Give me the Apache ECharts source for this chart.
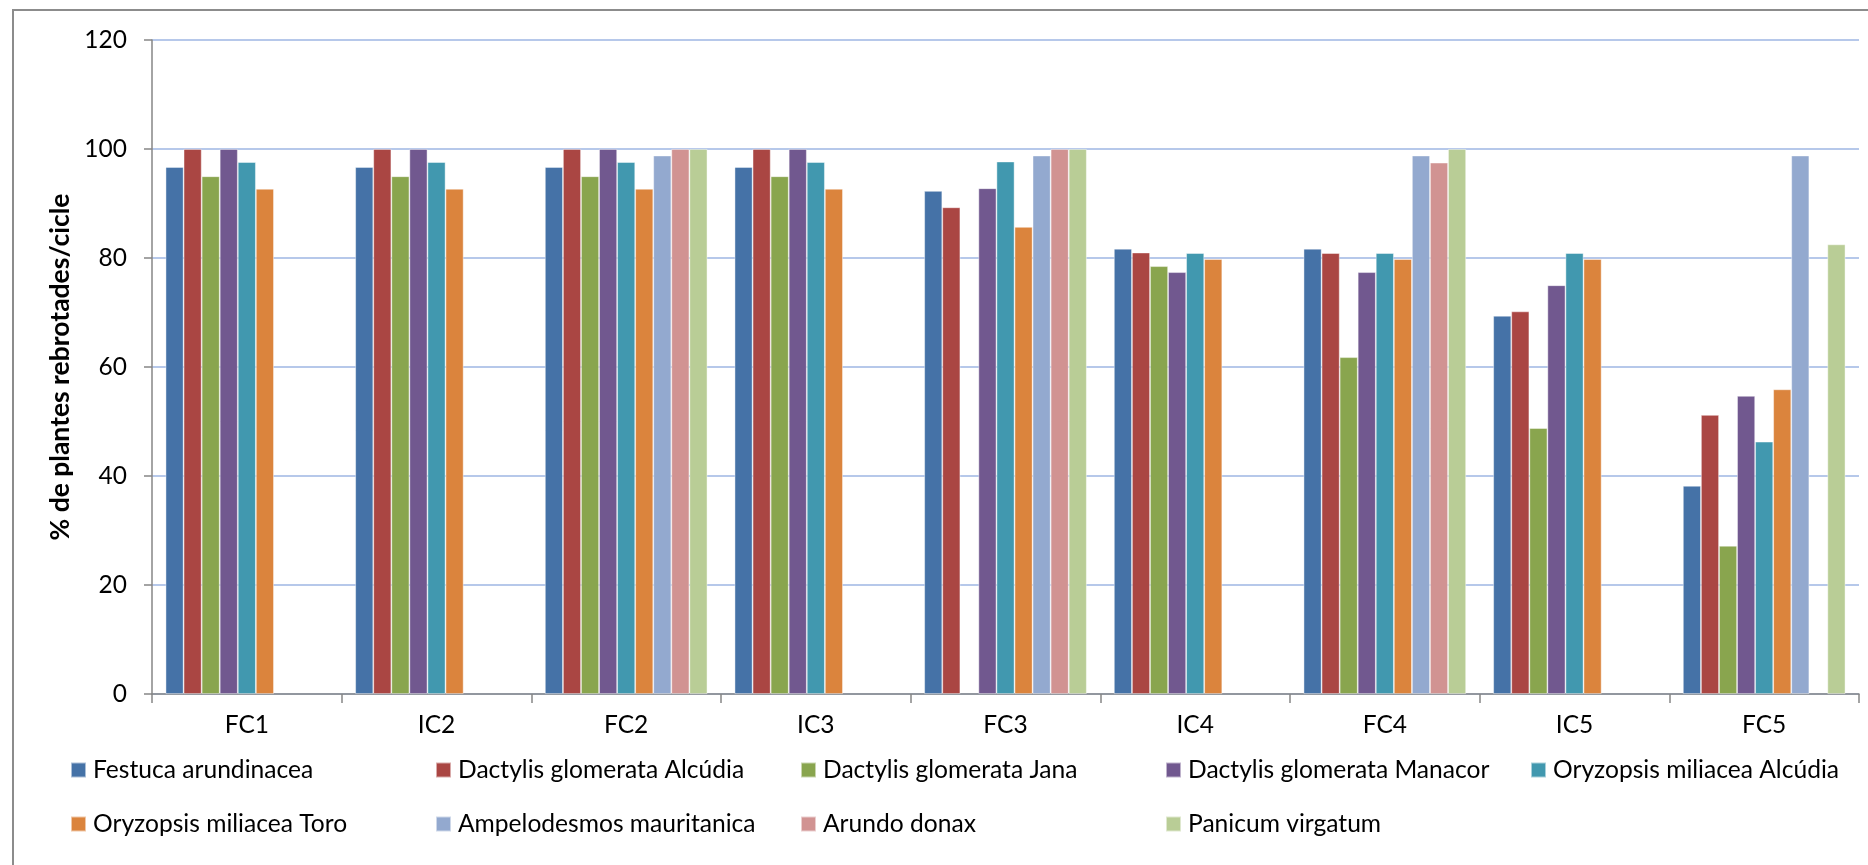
<!DOCTYPE html>
<html>
<head>
<meta charset="utf-8">
<title>% de plantes rebrotades/cicle</title>
<script src="https://cdn.jsdelivr.net/npm/echarts@6/dist/echarts.min.js"></script>
<style>
  html, body { margin: 0; padding: 0; background: #ffffff; }
  #chart { width: 1868px; height: 865px; }
</style>
</head>
<body>
<div id="chart"></div>
<script>
// Cutting cycles (x axis)
const categories = ['FC1', 'IC2', 'FC2', 'IC3', 'FC3', 'IC4', 'FC4', 'IC5', 'FC5'];

// Percentage of plants resprouting per cycle, one array per species/population
const festucaArundinacea      = [96.7, 96.7, 96.7, 96.7, 92.3, 81.7, 81.7, 69.4, 38.2];
const dactylisAlcudia         = [100, 100, 100, 100, 89.3, 81.0, 80.9, 70.2, 51.2];
const dactylisJana            = [95.0, 95.0, 95.0, 95.0, null, 78.5, 61.8, 48.8, 27.2];
const dactylisManacor         = [100, 100, 100, 100, 92.8, 77.4, 77.4, 75.0, 54.7];
const oryzopsisAlcudia        = [97.6, 97.6, 97.6, 97.6, 97.7, 80.9, 80.9, 80.9, 46.3];
const oryzopsisToro           = [92.7, 92.7, 92.7, 92.7, 85.7, 79.8, 79.8, 79.8, 55.9];
const ampelodesmosMauritanica = [null, null, 98.8, null, 98.8, null, 98.8, null, 98.8];
const arundoDonax             = [null, null, 100, null, 100, null, 97.5, null, null];
const panicumVirgatum         = [null, null, 100, null, 100, null, 100, null, 82.5];

const seriesNames = [
  'Festuca arundinacea',
  'Dactylis glomerata Alcúdia',
  'Dactylis glomerata Jana',
  'Dactylis glomerata Manacor',
  'Oryzopsis miliacea Alcúdia',
  'Oryzopsis miliacea Toro',
  'Ampelodesmos mauritanica',
  'Arundo donax',
  'Panicum virgatum'
];
const seriesValues = [
  festucaArundinacea, dactylisAlcudia, dactylisJana, dactylisManacor,
  oryzopsisAlcudia, oryzopsisToro, ampelodesmosMauritanica, arundoDonax, panicumVirgatum
];
const seriesColors = [
  '#4572A7', '#AA4643', '#89A54E', '#71588F', '#4198AF',
  '#DB843D', '#93A9CF', '#D19392', '#B9CD96'
];

// Y axis ticks
const yMin = 0;
const yMax = 120;
const yStep = 20;

const FONT = 'Lato, "Open Sans", sans-serif';
const AXIS_GRAY = '#868686';

const chart = echarts.init(document.getElementById('chart'), null, { renderer: 'canvas' });

const series = seriesNames.map((name, i) => ({
  name: name,
  type: 'bar',
  data: seriesValues[i],
  barGap: '0%',
  barCategoryGap: '14.29%',
  itemStyle: {
    color: seriesColors[i],
    borderColor: 'rgba(255,255,255,0.55)',
    borderWidth: 0.8
  },
  emphasis: { disabled: true }
}));

chart.setOption({
  animation: false,
  backgroundColor: '#ffffff',
  textStyle: { fontFamily: FONT, color: '#000000' },
  graphic: [{
    type: 'rect',
    silent: true,
    shape: { x: 13, y: 10, width: 1875, height: 880 },
    style: { fill: 'none', stroke: '#8c8c8c', lineWidth: 2 }
  }],
  grid: { left: 152, right: 9, top: 40, bottom: 171, containLabel: false },
  legend: {
    left: 70,
    top: 743,
    width: 1830,
    padding: 0,
    itemGap: 0,
    itemWidth: 15,
    itemHeight: 15,
    icon: 'rect',
    selectedMode: false,
    data: seriesNames,
    textStyle: {
      fontFamily: FONT,
      fontSize: 24.6,
      color: '#000000',
      width: 342,
      lineHeight: 54,
      padding: [0, 0, 0, 2]
    }
  },
  xAxis: {
    type: 'category',
    data: categories,
    axisLine: { show: true, lineStyle: { color: AXIS_GRAY, width: 1.5 } },
    axisTick: { show: true, alignWithLabel: false, length: 9, lineStyle: { color: AXIS_GRAY, width: 1.5 } },
    axisLabel: { fontFamily: FONT, fontSize: 24.5, color: '#000000', margin: 19 },
    splitLine: { show: false }
  },
  yAxis: {
    type: 'value',
    min: yMin,
    max: yMax,
    interval: yStep,
    name: '% de plantes rebrotades/cicle',
    nameLocation: 'middle',
    nameGap: 76,
    nameTextStyle: { fontFamily: FONT, fontSize: 26.5, fontWeight: 'bold', color: '#000000' },
    axisLine: { show: true, lineStyle: { color: AXIS_GRAY, width: 1.5 } },
    axisTick: { show: true, length: 8, lineStyle: { color: AXIS_GRAY, width: 1.5 } },
    axisLabel: { fontFamily: FONT, fontSize: 24.5, color: '#000000', margin: 25 },
    splitLine: { show: true, lineStyle: { color: '#b6c8ea', width: 2 } }
  },
  series: series
});
</script>
</body>
</html>
